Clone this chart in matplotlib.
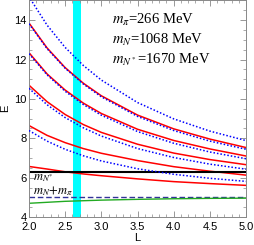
import matplotlib
matplotlib.use("Agg")
import matplotlib.pyplot as plt
import numpy as np

# box size L (in 1/m_pi) at which levels were read
L = [2.0, 2.25, 2.5, 2.75, 3.0, 3.5, 4.0, 4.5, 5.0]

# non-interacting N pi levels (blue dotted)
free1 = [8.395, 7.857, 7.442, 7.114, 6.850, 6.453, 6.173, 5.969, 5.813]
free2 = [10.54, 9.706, 9.054, 8.536, 8.115, 7.480, 7.025, 6.688, 6.430]
free3 = [12.30, 11.226, 10.389, 9.719, 9.174, 8.344, 7.749, 7.304, 6.962]
free4 = [13.82, 12.554, 11.559, 10.761, 10.108, 9.113, 8.395, 7.857, 7.442]
free5 = [15.19, 13.749, 12.616, 11.704, 10.957, 9.816, 8.987, 8.365, 7.883]

# interacting levels (red)
red1 = [13.86, 12.59, 11.59, 10.80, 10.16, 9.18, 8.48, 7.96, 7.53]
red2 = [12.35, 11.27, 10.45, 9.79, 9.26, 8.46, 7.89, 7.46, 7.10]
red3 = [10.70, 9.86, 9.21, 8.70, 8.30, 7.70, 7.25, 6.92, 6.66]
red4 = [8.65, 8.15, 7.78, 7.48, 7.24, 6.87, 6.56, 6.33, 6.13]
red5 = [6.57, 6.44, 6.30, 6.19, 6.10, 5.94, 5.80, 5.70, 5.61]

# lowest level (green)
L_green = [2.0, 2.5, 3.0, 3.5, 4.0, 4.5, 5.0]
green = [4.70, 4.80, 4.86, 4.90, 4.93, 4.95, 4.96]

m_nstar = 6.278      # 1670/266
threshold = 5.015    # (1068+266)/266
band = (2.61, 2.72)

plt.rcParams["font.family"] = ["Liberation Sans", "DejaVu Sans"]
plt.rcParams["mathtext.fontset"] = "stix"

fig = plt.figure(figsize=(2.54, 2.45), dpi=100)
ax = fig.add_axes([0.114, 0.114, 0.855, 0.884])

ax.axvspan(band[0], band[1], color="#00ffff", lw=0, zorder=1)

for r in [red1, red2, red3, red4, red5]:
    ax.plot(L, r, color="red", lw=1.1, zorder=2)
for f in [free1, free2, free3, free4, free5]:
    ax.plot(L, f, color="blue", lw=1.1, ls=(0, (1, 1.3)), zorder=3)

ax.axhline(m_nstar, color="black", lw=1.5, zorder=2)
ax.axhline(threshold, color="#333399", lw=1.0, ls=(0, (4, 2)), zorder=2)
ax.plot(L_green, green, color="#22aa22", lw=1.0, zorder=2)

ax.text(2.05, 6.0, r"$m_{N^{*}}$", fontsize=9, family="Liberation Serif", va="center")
ax.text(2.05, 5.33, r"$m_N\!+\!m_\pi$", fontsize=9, family="Liberation Serif", va="center")

tfont = dict(fontsize=10.5, family="Liberation Serif", va="center")
ax.text(3.15, 14.0, r"$m_\pi$=266 MeV", **tfont)
ax.text(3.15, 13.0, r"$m_N$=1068 MeV", **tfont)
ax.text(3.15, 12.0, r"$m_{N^*}$=1670 MeV", **tfont)

ax.set_xlim(2.0, 5.0)
ax.set_ylim(4, 15)
ax.set_xticks([2.0, 2.5, 3.0, 3.5, 4.0, 4.5, 5.0])
ax.set_xticks(np.arange(2.0, 5.01, 0.1), minor=True)
ax.set_yticks([4, 6, 8, 10, 12, 14])
ax.set_yticks(np.arange(4, 15.01, 0.5), minor=True)
ax.set_xticklabels(["2.0", "2.5", "3.0", "3.5", "4.0", "4.5", "5.0"])
ax.tick_params(which="both", direction="in", top=True, right=True,
               labelsize=8, color="#888888")
ax.tick_params(axis="x", pad=3.5)
ax.tick_params(axis="y", pad=1.5)
ax.tick_params(which="major", length=4, width=0.6)
ax.tick_params(which="minor", length=2, width=0.5)
for s in ax.spines.values():
    s.set_color("#888888")
    s.set_linewidth(0.7)

ax.set_xlabel("L", fontsize=8, labelpad=1)
ax.set_ylabel("E", fontsize=8, labelpad=3)

fig.savefig("out.png", dpi=100)
